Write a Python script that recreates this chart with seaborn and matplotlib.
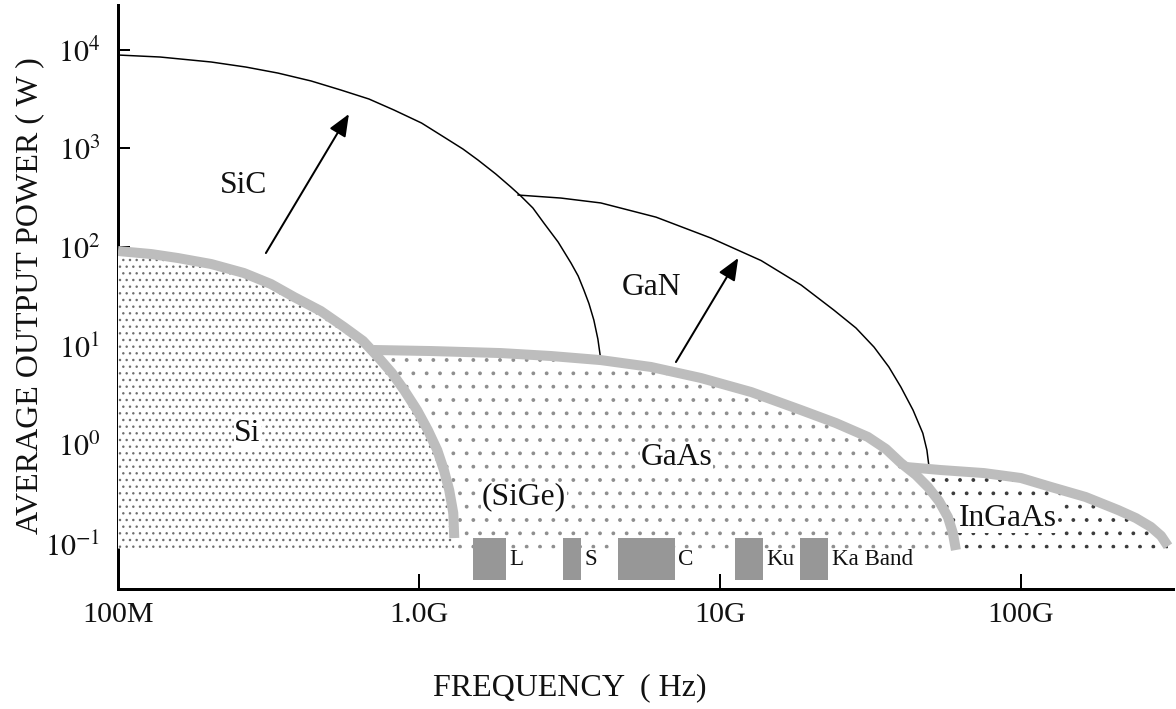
import numpy as np
import pandas as pd
import matplotlib
matplotlib.use("Agg")
import matplotlib.pyplot as plt
from matplotlib.ticker import NullLocator
import seaborn as sns

# ---------------- data (frequency in Hz, power in W) ----------------
sic_freq = [1.00e8, 1.38e8, 2.04e8, 2.66e8, 3.40e8, 4.38e8, 5.51e8, 6.82e8,
            8.26e8, 1.02e9, 1.21e9, 1.40e9, 1.57e9, 1.80e9, 2.02e9, 2.18e9,
            2.39e9, 2.60e9, 2.90e9, 3.20e9, 3.38e9, 3.53e9, 3.67e9, 3.81e9,
            3.93e9, 4.02e9]
sic_power = [8800, 8400, 7480, 6650, 5780, 4810, 3890, 3160, 2445, 1806,
             1304, 986, 764, 551, 407, 330, 250, 176, 113, 69.3, 51.3, 37.0,
             27.0, 18.4, 11.8, 7.24]

gan_freq = [2.13e9, 2.96e9, 4.02e9, 6.13e9, 9.34e9, 1.37e10, 1.86e10,
            2.39e10, 2.83e10, 3.25e10, 3.64e10, 3.99e10, 4.38e10, 4.72e10,
            4.87e10, 4.94e10]
gan_power = [338, 315, 281, 202, 124, 73.5, 41.6, 23.2, 15.3, 9.8, 6.17,
             3.87, 2.26, 1.32, 0.89, 0.63]

si_freq = [1.00e8, 1.29e8, 1.58e8, 2.04e8, 2.62e8, 3.22e8, 3.85e8, 4.72e8,
           5.64e8, 6.52e8, 7.31e8, 8.13e8, 8.92e8, 9.85e8, 1.07e9, 1.15e9,
           1.21e9, 1.26e9, 1.30e9, 1.31e9, 1.31e9]
si_power = [91.8, 85.5, 78, 67.8, 55, 42.6, 31.4, 22.7, 15.6, 11.3, 7.78,
            5.36, 3.61, 2.26, 1.42, 0.89, 0.56, 0.352, 0.206, 0.139, 0.095]

gaas_freq = [7.08e8, 1.10e9, 1.87e9, 2.75e9, 4.02e9, 5.90e9, 8.65e9,
             1.27e10, 1.86e10, 2.43e10, 3.10e10, 3.56e10, 3.99e10, 4.48e10,
             4.91e10, 5.34e10, 5.72e10, 5.94e10, 6.08e10]
gaas_power = [9.16, 8.94, 8.53, 7.96, 7.24, 6.17, 4.77, 3.44, 2.26, 1.67,
              1.21, 0.914, 0.66, 0.499, 0.377, 0.272, 0.187, 0.129, 0.087]

ingaas_freq = [4.15e10, 5.42e10, 7.53e10, 1.00e11, 1.26e11, 1.64e11,
               2.10e11, 2.41e11, 2.70e11, 2.92e11, 3.08e11]
ingaas_power = [0.601, 0.560, 0.522, 0.465, 0.377, 0.299, 0.221, 0.183,
                0.149, 0.121, 0.095]

fill_floor = 0.09

band_names = ["L", "S", "C", "Ku", "Ka Band"]
band_lo = [1.51e9, 3.00e9, 4.58e9, 1.12e10, 1.85e10]
band_hi = [1.95e9, 3.45e9, 7.08e9, 1.39e10, 2.29e10]
band_bottom = 0.043
band_top = 0.115
band_label_power = 0.069

arrow_tail = [(3.10e8, 87.5), (7.14e9, 6.92)]
arrow_head = [(5.85e8, 2227), (1.15e10, 78)]

region_labels = ["SiC", "GaN", "Si", "GaAs", "(SiGe)", "InGaAs"]
region_freq = [2.62e8, 5.9e9, 2.69e8, 7.19e9, 2.23e9, 9.06e10]
region_power = [417, 38.8, 1.32, 0.758, 0.299, 0.183]
region_boxed = [False, False, True, True, True, True]

xtick_vals = [1e8, 1e9, 1e10, 1e11]
xtick_labels = ["100M", "1.0G", "10G", "100G"]
ytick_vals = [0.1, 1, 10, 100, 1000, 10000]
ytick_labels = [r"$10^{-1}$", r"$10^{0}$", r"$10^{1}$", r"$10^{2}$",
                r"$10^{3}$", r"$10^{4}$"]

# ---------------- style ----------------
DPI = 80
PT = 72.0 / DPI  # points per pixel

sns.set_theme(style="white")
plt.rcParams["font.family"] = ["Liberation Serif", "DejaVu Serif"]
plt.rcParams["mathtext.fontset"] = "stix"
plt.rcParams["hatch.linewidth"] = 1.0

fig = plt.figure(figsize=(1176 / DPI, 709 / DPI), dpi=DPI)
fig.patch.set_facecolor("white")
L, R, T, B = 118, 1173, 5, 589
ax = fig.add_axes([L / 1176, 1 - B / 709, (R - L) / 1176, (B - T) / 709])
ax.set_facecolor("white")
ax.set_xscale("log")
ax.set_yscale("log")
ax.set_xlim(1e8, 3.2e11)
ax.set_ylim(0.0351, 2.82e4)

GRAY_THICK = "#bdbdbd"
BAND_GRAY = "#979797"

# filled regions (drawn back-to-front so each covers the previous one)
ax.fill_between(ingaas_freq, fill_floor, ingaas_power, facecolor="white",
                edgecolor="#3a3a3a", hatch=".", linewidth=0, zorder=1)
ax.fill_between(gaas_freq, fill_floor, gaas_power, facecolor="white",
                edgecolor="#8e8e8e", hatch=".", linewidth=0, zorder=2)
ax.fill_between(si_freq, fill_floor, si_power, facecolor="white",
                edgecolor="#6f6f6f", hatch="..", linewidth=0, zorder=3)

# thin black boundaries (SiC, GaN)
sns.lineplot(x=sic_freq, y=sic_power, sort=False, color="black",
             linewidth=1.5 * PT, ax=ax, zorder=4)
sns.lineplot(x=gan_freq, y=gan_power, sort=False, color="black",
             linewidth=1.5 * PT, ax=ax, zorder=4)

# thick gray boundaries (InGaAs, GaAs, Si)
for fx, py in [(ingaas_freq, ingaas_power), (gaas_freq, gaas_power),
               (si_freq, si_power)]:
    sns.lineplot(x=fx, y=py, sort=False, color=GRAY_THICK,
                 linewidth=10 * PT, ax=ax, zorder=5, solid_capstyle="butt",
                 solid_joinstyle="round")

# frequency bands
widths = [h - l for l, h in zip(band_lo, band_hi)]
ax.bar(band_lo, band_top - band_bottom, width=widths, bottom=band_bottom,
       align="edge", color=BAND_GRAY, edgecolor="none", zorder=6)
for name, hi in zip(band_names, band_hi):
    ax.annotate(name, xy=(hi, band_label_power), xytext=(3, 0),
                textcoords="offset points", ha="left", va="center",
                fontsize=23 * PT, color="#111111", zorder=7)

# arrows
for tail, head in zip(arrow_tail, arrow_head):
    ax.annotate("", xy=head, xytext=tail,
                arrowprops=dict(arrowstyle="-|>,head_length=0.6,head_width=0.25",
                                color="black", lw=2.0 * PT,
                                mutation_scale=28, shrinkA=0, shrinkB=0),
                zorder=7)

# region labels
for txt, fx, py, boxed in zip(region_labels, region_freq, region_power,
                              region_boxed):
    kw = {}
    if boxed:
        kw["bbox"] = dict(facecolor="white", edgecolor="none", pad=0.5)
    ax.text(fx, py, txt, ha="center", va="center", fontsize=31.5 * PT,
            color="#111111", zorder=8, **kw)

# axes styling
for side in ["top", "right"]:
    ax.spines[side].set_visible(False)
for side in ["left", "bottom"]:
    ax.spines[side].set_color("black")
    ax.spines[side].set_linewidth(3 * PT)

ax.set_xticks(xtick_vals)
ax.set_xticklabels(xtick_labels)
ax.set_yticks(ytick_vals)
ax.set_yticklabels(ytick_labels)
ax.xaxis.set_minor_locator(NullLocator())
ax.yaxis.set_minor_locator(NullLocator())
ax.tick_params(axis="x", direction="in", length=15 * PT, width=2 * PT,
               labelsize=30 * PT, pad=13 * PT, colors="black",
               bottom=True)
ax.tick_params(axis="y", direction="in", length=12 * PT, width=2 * PT,
               labelsize=30 * PT, pad=18 * PT, colors="black", left=True)
for lab in ax.get_xticklabels() + ax.get_yticklabels():
    lab.set_color("#111111")

ax.set_xlabel("FREQUENCY  ( Hz)", fontsize=32 * PT, color="#111111")
ax.xaxis.set_label_coords((570 - L) / (R - L), (B - 688) / (B - T))
ax.xaxis.label.set_va("center")
ax.set_ylabel("AVERAGE OUTPUT POWER ( W )", fontsize=32 * PT,
              color="#111111")
ax.yaxis.set_label_coords((30 - L) / (R - L), (B - 296) / (B - T))
ax.yaxis.label.set_va("center")
ax.grid(False)

fig.savefig("out.png", dpi=DPI, facecolor="white")
